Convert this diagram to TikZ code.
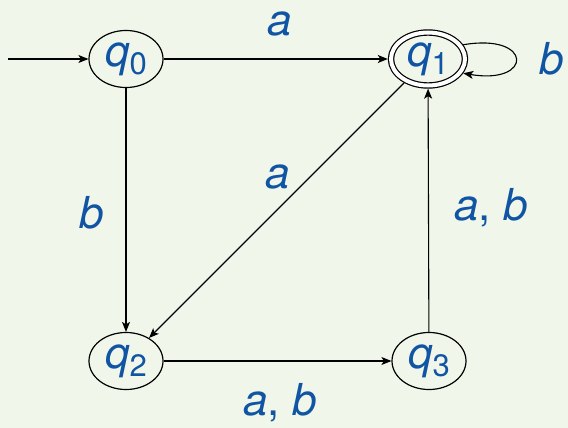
\documentclass[tikz,border=0pt]{standalone}
\usepackage{fontspec}
\setmainfont{TeX Gyre Heros}
\usetikzlibrary{arrows.meta,shapes.geometric}
\definecolor{bgc}{RGB}{241,246,234}
\definecolor{lblue}{RGB}{16,84,164}
\newcommand{\stq}[1]{{\itshape q}\raisebox{-0.2em}{\fontsize{31}{34}\selectfont #1}}
\begin{document}
\begin{tikzpicture}[x=1pt,y=1pt,
  every node/.style={font=\fontsize{44}{48}\selectfont, text=lblue},
  st/.style={ellipse, draw=black, line width=1.2pt, minimum width=74pt, minimum height=57pt, inner sep=0pt, outer sep=0.6pt},
  acc/.style={st, double, double distance=4pt, minimum width=74pt, minimum height=53pt, outer sep=3.2pt},
  tr/.style={-{Stealth[length=10pt,width=8pt,inset=2.5pt]}, line width=1.1pt},
  lbl/.style={anchor=base, inner sep=0pt}]
\fill[bgc] (0,0) rectangle (568,-428);
\useasboundingbox (0,0) rectangle (568,-428);
\node[st] (q0) at (126,-59) {\stq{0}};
\node[acc] (q1) at (428,-59) {\stq{1}};
\node[st] (q2) at (126,-361) {\stq{2}};
\node[st] (q3) at (429,-361) {\stq{3}};
\coordinate (s) at (8,-59);
\draw[tr] (s) -- (q0);
\draw[tr] (q0) -- (q1);
\draw[tr] (q0) -- (q2);
\draw[tr] (q1) -- (q2);
\draw[tr] (q2) -- (q3);
\draw[tr] (q3) -- (q1);
\draw[tr] (q1.22) .. controls +(70,12) and +(70,-12) .. (q1.-22);
\node[lbl] (l1) at (280,-36) {\itshape a};
\node[lbl] (l2) at (552,-75) {\itshape b};
\node[lbl] (l3) at (278,-188) {\itshape a};
\node[lbl] (l4) at (92,-228) {\itshape b};
\node[lbl] (l5) at (491,-220) {\itshape a\upshape, \itshape b};
\node[lbl] (l6) at (280,-415) {\itshape a\upshape, \itshape b};
\end{tikzpicture}
\end{document}
